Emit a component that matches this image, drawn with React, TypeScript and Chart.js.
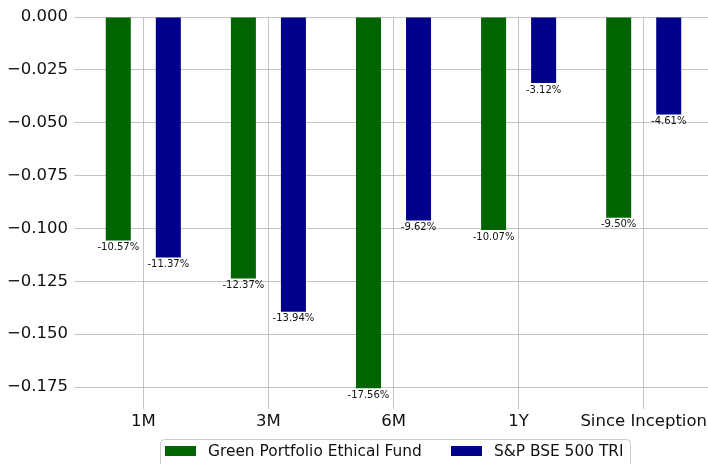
import React, { useEffect, useRef } from "react";
import { Chart, registerables } from "chart.js";

Chart.register(...registerables);

const categories = ["1M", "3M", "6M", "1Y", "Since Inception"];
const seriesNames = ["Green Portfolio Ethical Fund", "S&P BSE 500 TRI"];
const greenValues = [-0.1057, -0.1237, -0.1756, -0.1007, -0.095];
const blueValues = [-0.1137, -0.1394, -0.0962, -0.0312, -0.0461];
const seriesColors = ["#006400", "#00008b"];
const yTickValues = [0, -0.025, -0.05, -0.075, -0.1, -0.125, -0.15, -0.175];
const yTickLabels = ["0.000", "\u22120.025", "\u22120.050", "\u22120.075", "\u22120.100", "\u22120.125", "\u22120.150", "\u22120.175"];

const FONT = "'DejaVu Sans', sans-serif";
const GRID = "rgba(176,176,176,0.75)";

const valueLabels = {
  id: "valueLabels",
  afterDraw(chart: any) {
    const ctx = chart.ctx;
    ctx.save();
    ctx.font = `10px ${FONT}`;
    ctx.fillStyle = "#111";
    ctx.textAlign = "center";
    ctx.textBaseline = "top";
    chart.data.datasets.forEach((ds: any, di: number) => {
      const meta = chart.getDatasetMeta(di);
      meta.data.forEach((el: any, i: number) => {
        const v = ds.data[i].y;
        ctx.fillText(`${(v * 100).toFixed(2)}%`, el.x, el.y + 2);
      });
    });
    ctx.restore();
  },
};

const boxLegend = {
  id: "boxLegend",
  afterDraw(chart: any) {
    const ctx = chart.ctx;
    ctx.save();
    const bx = 160.5, by = 439.5, bw = 470, bh = 40, r = 4;
    ctx.beginPath();
    ctx.moveTo(bx + r, by);
    ctx.lineTo(bx + bw - r, by);
    ctx.quadraticCurveTo(bx + bw, by, bx + bw, by + r);
    ctx.lineTo(bx + bw, by + bh);
    ctx.lineTo(bx, by + bh);
    ctx.lineTo(bx, by + r);
    ctx.quadraticCurveTo(bx, by, bx + r, by);
    ctx.closePath();
    ctx.fillStyle = "rgba(255,255,255,0.85)";
    ctx.fill();
    ctx.strokeStyle = "#cccccc";
    ctx.lineWidth = 1;
    ctx.stroke();
    ctx.font = `15.4px ${FONT}`;
    ctx.textBaseline = "middle";
    ctx.textAlign = "left";
    const starts = [165, 451];
    seriesNames.forEach((name, i) => {
      ctx.fillStyle = seriesColors[i];
      ctx.fillRect(starts[i], 446, 31, 10);
      ctx.fillStyle = "#111";
      ctx.fillText(name, starts[i] + 43, 452);
    });
    ctx.restore();
  },
};

export default function App() {
  const ref = useRef<HTMLCanvasElement>(null);
  useEffect(() => {
    if (!ref.current) return;
    const chart = new Chart(ref.current, {
      type: "bar",
      data: {
        datasets: [
          {
            label: seriesNames[0],
            data: greenValues.map((v, i) => ({ x: i, y: v })),
            backgroundColor: seriesColors[0],
            borderWidth: 0,
          },
          {
            label: seriesNames[1],
            data: blueValues.map((v, i) => ({ x: i, y: v })),
            backgroundColor: seriesColors[1],
            borderWidth: 0,
          },
        ],
      },
      options: {
        responsive: false,
        animation: false,
        devicePixelRatio: 1,
        layout: { padding: { top: 17, left: 0, right: 2, bottom: 30 } },
        datasets: { bar: { categoryPercentage: 0.8, barPercentage: 0.5 } },
        plugins: { legend: { display: false }, tooltip: { enabled: false } },
        scales: {
          x: {
            type: "linear",
            offset: false,
            min: -0.53,
            max: 4.53,
            afterBuildTicks: (scale: any) => {
              scale.ticks = categories.map((_, i) => ({ value: i }));
            },
            afterFit: (scale: any) => {
              scale.height = 29;
            },
            ticks: {
              autoSkip: false,
              maxRotation: 0,
              padding: 3,
              color: "#111",
              font: { family: FONT, size: 16.5 },
              callback: (v: any) => categories[Math.round(v)] ?? "",
            },
            grid: { color: GRID, lineWidth: 1, tickLength: 4, offset: false },
            border: { display: false },
          },
          y: {
            min: -0.1835,
            max: 0,
            z: 1,
            afterBuildTicks: (scale: any) => {
              scale.ticks = yTickValues.map((v) => ({ value: v }));
            },
            afterFit: (scale: any) => {
              scale.width = 77;
            },
            ticks: {
              padding: 6,
              color: "#111",
              font: { family: FONT, size: 16.5 },
              callback: (v: any) => {
                const idx = yTickValues.findIndex((t) => Math.abs(t - v) < 1e-9);
                return idx >= 0 ? yTickLabels[idx] : "";
              },
            },
            grid: { color: GRID, lineWidth: 1, tickLength: 3 },
            border: { display: false },
          },
        },
      },
      plugins: [valueLabels, boxLegend],
    } as any);
    return () => chart.destroy();
  }, []);
  return (
    <div style={{ position: "fixed", left: 0, top: 0, width: 708, height: 464, overflow: "hidden", background: "#fff" }}>
      <canvas ref={ref} width={712} height={464} style={{ display: "block" }} />
    </div>
  );
}
